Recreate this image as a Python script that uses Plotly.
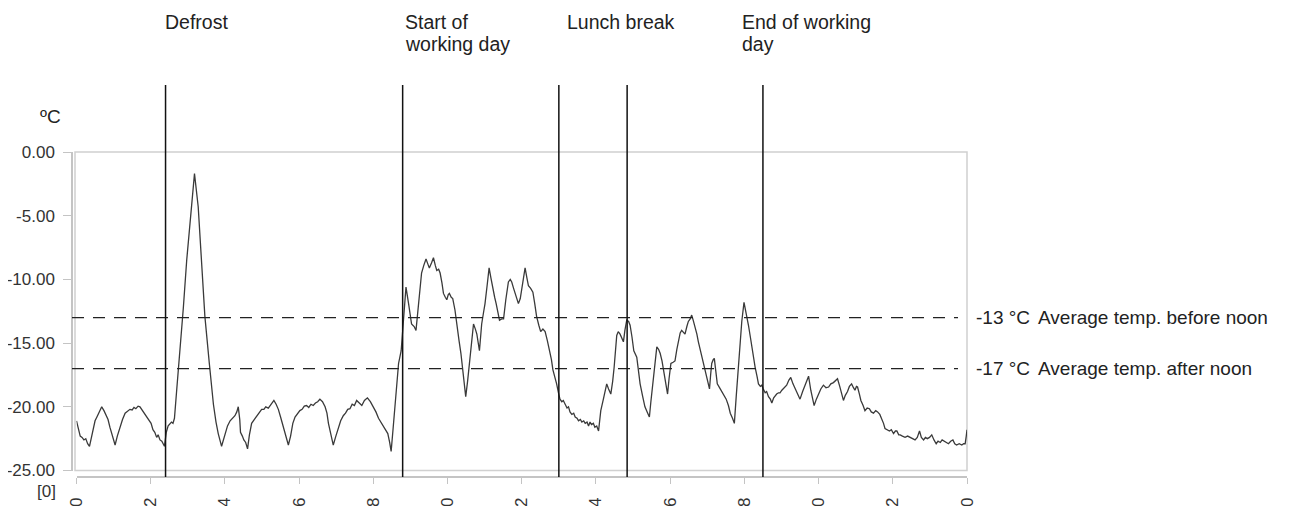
import plotly.graph_objects as go

# ---------------- data ----------------
# hours of the day and temperature in deg C, split by period
h_early = [0.00, 0.05, 0.10, 0.15, 0.20, 0.25, 0.30, 0.35, 0.40, 0.45,
           0.50, 0.55, 0.62, 0.68, 0.74, 0.80, 0.85, 0.90, 0.97, 1.04,
           1.10, 1.17, 1.24, 1.31, 1.38, 1.44, 1.50, 1.55, 1.60, 1.66,
           1.71, 1.76, 1.81, 1.86, 1.91, 1.96, 2.01, 2.06, 2.11, 2.16,
           2.20, 2.25, 2.30, 2.37]
t_early = [-21.1, -21.6, -22.3, -22.4, -22.6, -22.5, -22.9, -23.1, -22.5, -21.7,
           -21.1, -20.8, -20.4, -20.0, -20.3, -20.7, -21.0, -21.6, -22.3, -23.0,
           -22.3, -21.6, -21.0, -20.5, -20.3, -20.2, -20.25, -20.05, -20.15, -19.95,
           -20.0, -20.2, -20.4, -20.6, -20.9, -21.1, -21.3, -21.8, -22.0, -22.4,
           -22.2, -22.6, -22.7, -23.1]

h_defrost = [2.42, 2.47, 2.52, 2.56, 2.60, 2.64, 2.70, 2.79, 2.88, 2.97,
             3.08, 3.18, 3.28, 3.37, 3.46, 3.58, 3.69, 3.76, 3.82, 3.91]
t_defrost = [-22.0, -21.5, -21.3, -21.2, -21.3, -20.9, -18.7, -15.6, -12.2, -8.5,
             -4.6, -1.7, -4.3, -8.5, -12.9, -16.6, -19.8, -21.2, -22.1, -23.1]

h_night = [3.96, 4.00, 4.07, 4.14, 4.20, 4.27, 4.32, 4.36, 4.40, 4.42,
           4.47, 4.51, 4.56, 4.61, 4.66, 4.72, 4.79, 4.86, 4.92, 4.99,
           5.05, 5.10, 5.17, 5.24, 5.32, 5.38, 5.44, 5.50, 5.57, 5.64,
           5.71, 5.77, 5.83, 5.89, 5.95, 6.02, 6.08, 6.14, 6.20, 6.26,
           6.32, 6.38, 6.44, 6.50, 6.56, 6.63, 6.70, 6.75, 6.79, 6.85,
           6.92, 6.99, 7.06, 7.12, 7.19, 7.25, 7.31, 7.37, 7.43, 7.49,
           7.55, 7.62, 7.69, 7.76, 7.84, 7.92, 8.00, 8.07, 8.14, 8.20,
           8.27, 8.33, 8.39, 8.44, 8.48]
t_night = [-22.6, -22.1, -21.5, -21.1, -20.9, -20.7, -20.4, -20.0, -21.0, -22.0,
           -22.3, -22.6, -22.8, -23.3, -22.2, -21.3, -21.0, -20.7, -20.4, -20.2,
           -20.2, -20.0, -20.1, -19.8, -19.5, -19.8, -20.2, -20.8, -21.6, -22.3,
           -23.0, -22.3, -21.3, -20.8, -20.6, -20.3, -20.2, -19.95, -19.9, -20.05,
           -19.8, -19.9, -19.7, -19.6, -19.4, -19.6, -20.0, -20.5, -21.3, -22.0,
           -23.0, -22.3, -21.6, -21.1, -20.7, -20.5, -20.2, -20.15, -19.8, -19.9,
           -19.5, -19.7, -19.9, -19.5, -19.3, -19.6, -20.0, -20.4, -20.9, -21.2,
           -21.6, -21.9, -22.1, -22.8, -23.5]

h_morning = [8.53, 8.59, 8.68, 8.75, 8.81, 8.88, 8.95, 9.03, 9.10, 9.15,
             9.21, 9.30, 9.36, 9.42, 9.47, 9.51, 9.57, 9.62, 9.67, 9.71,
             9.76, 9.80, 9.85, 9.89, 9.94, 9.98, 10.02, 10.05, 10.10, 10.14,
             10.20, 10.25, 10.31, 10.36, 10.43, 10.49, 10.54, 10.58, 10.64, 10.70,
             10.75, 10.79, 10.86, 10.92, 10.97, 11.01, 11.07, 11.12, 11.17, 11.22,
             11.27, 11.31, 11.36, 11.40, 11.46, 11.51, 11.57, 11.64, 11.69, 11.73,
             11.78, 11.84, 11.91, 11.96, 12.00, 12.05, 12.09, 12.14, 12.18, 12.24,
             12.30, 12.35, 12.40, 12.46, 12.51, 12.57, 12.63, 12.69, 12.75, 12.80,
             12.84, 12.89, 12.94, 12.99]
t_morning = [-21.8, -19.8, -16.6, -15.6, -12.9, -10.6, -11.9, -13.5, -13.7, -14.0,
             -12.2, -9.5, -8.9, -8.4, -8.8, -9.1, -8.7, -8.3, -8.9, -9.3,
             -9.2, -9.5, -10.3, -11.1, -11.4, -11.6, -11.2, -11.1, -11.4, -11.5,
             -12.4, -13.7, -14.8, -15.8, -17.7, -19.2, -18.0, -16.9, -15.0, -13.5,
             -13.9, -14.3, -15.6, -13.5, -12.6, -11.9, -10.4, -9.1, -9.9, -10.8,
             -11.4, -11.9, -12.6, -13.2, -13.1, -13.1, -11.6, -10.2, -10.0, -10.2,
             -10.7, -11.3, -11.9, -11.5, -10.8, -10.0, -9.1, -9.9, -10.5, -10.7,
             -11.0, -11.9, -12.9, -13.6, -14.1, -13.9, -14.1, -14.8, -15.6, -16.3,
             -17.1, -17.6, -18.2, -18.9]

h_lunch = [13.03, 13.08, 13.12, 13.17, 13.22, 13.26, 13.30, 13.35, 13.40, 13.44,
           13.49, 13.53, 13.58, 13.62, 13.67, 13.71, 13.76, 13.80, 13.84, 13.88,
           13.93, 13.97, 14.02, 14.07, 14.10, 14.13, 14.20, 14.24, 14.29, 14.34,
           14.40]
t_lunch = [-19.4, -19.6, -19.5, -19.8, -20.1, -20.0, -20.4, -20.6, -20.5, -20.8,
           -20.9, -21.1, -21.0, -21.2, -21.1, -21.3, -21.2, -21.5, -21.2, -21.4,
           -21.3, -21.6, -21.5, -21.9, -21.0, -20.3, -19.4, -18.9, -18.2, -18.6,
           -19.0]

h_afternoon = [14.45, 14.49, 14.56, 14.60, 14.65, 14.70, 14.74, 14.78, 14.83, 14.88,
               14.92, 14.97, 15.02, 15.10, 15.15, 15.19, 15.26, 15.32, 15.38, 15.44,
               15.48, 15.53, 15.58, 15.64, 15.69, 15.73, 15.78, 15.82, 15.88, 15.93,
               15.97, 16.02, 16.08, 16.13, 16.18, 16.22, 16.27, 16.31, 16.36, 16.40,
               16.45, 16.49, 16.54, 16.58, 16.62, 16.67, 16.72, 16.76, 16.82, 16.88,
               16.94, 16.99, 17.06, 17.09, 17.12, 17.16, 17.19, 17.23, 17.27, 17.33,
               17.39, 17.45, 17.51, 17.57, 17.62, 17.68, 17.73]
t_afternoon = [-18.0, -16.9, -14.4, -14.1, -14.3, -14.6, -14.9, -14.0, -13.2, -13.3,
               -13.6, -14.5, -15.6, -16.1, -17.3, -18.2, -19.2, -20.0, -20.4, -20.8,
               -19.6, -18.2, -16.8, -15.3, -15.5, -15.8, -16.4, -17.1, -18.1, -19.0,
               -17.8, -16.6, -16.5, -16.4, -15.5, -14.8, -14.2, -14.0, -14.2, -14.3,
               -13.7, -13.3, -13.1, -12.8, -13.2, -13.7, -14.3, -14.9, -15.6, -16.4,
               -17.1, -17.7, -18.6, -17.5, -16.6, -16.3, -16.2, -17.2, -18.2, -18.5,
               -18.8, -19.0, -19.4, -19.9, -20.5, -20.9, -21.3]

h_evening = [17.78, 17.84, 17.89, 17.93, 17.99, 18.05, 18.11, 18.16, 18.20, 18.25,
             18.29, 18.34, 18.38, 18.43, 18.47, 18.51, 18.56, 18.60, 18.65, 18.70,
             18.74, 18.79, 18.83, 18.87, 18.92, 18.96, 19.01, 19.05, 19.10, 19.14,
             19.20, 19.25, 19.31, 19.37, 19.43, 19.50, 19.57, 19.64, 19.69, 19.73,
             19.79, 19.84, 19.88, 19.94, 20.00, 20.06, 20.13, 20.20, 20.27, 20.33,
             20.40, 20.46, 20.51, 20.57, 20.62, 20.67, 20.72, 20.78, 20.83, 20.89,
             20.94, 20.98, 21.02, 21.05, 21.10, 21.14, 21.20, 21.25, 21.31, 21.37,
             21.42, 21.48, 21.54, 21.59, 21.65, 21.70, 21.75, 21.79, 21.85, 21.91,
             21.96, 22.02, 22.07, 22.11, 22.16, 22.20, 22.26, 22.33, 22.40, 22.47,
             22.53, 22.60, 22.66, 22.72, 22.77, 22.83, 22.88, 22.93, 22.99, 23.05,
             23.11, 23.17, 23.22, 23.28, 23.33, 23.38, 23.44, 23.50, 23.56, 23.62,
             23.67, 23.72, 23.79, 23.86, 23.91, 23.95, 23.98, 24.00]
t_evening = [-19.2, -16.9, -14.8, -13.3, -11.8, -12.6, -13.6, -14.5, -15.3, -16.1,
             -16.9, -17.6, -18.2, -18.4, -18.3, -18.6, -18.9, -18.8, -19.2, -19.4,
             -19.7, -19.3, -19.1, -19.0, -18.9, -18.9, -18.7, -18.6, -18.4, -18.3,
             -17.9, -17.7, -18.2, -18.6, -19.0, -19.4, -18.8, -18.2, -17.9, -17.6,
             -18.7, -19.4, -19.9, -19.4, -19.0, -18.6, -18.3, -18.5, -18.45, -18.2,
             -18.1, -17.9, -17.8, -18.4, -19.0, -19.5, -19.1, -18.8, -18.4, -18.2,
             -18.5, -18.7, -18.4, -18.45, -19.0, -19.5, -19.9, -20.3, -20.1, -20.15,
             -20.4, -20.5, -20.3, -20.4, -20.6, -20.9, -21.3, -21.7, -21.8, -21.9,
             -21.8, -22.1, -21.9, -21.9, -22.2, -22.2, -22.3, -22.4, -22.3, -22.4,
             -22.5, -22.6, -22.4, -21.9, -22.4, -22.6, -22.4, -22.5, -22.4, -22.2,
             -22.6, -22.9, -22.7, -22.8, -22.6, -22.7, -22.8, -22.9, -22.7, -22.6,
             -22.9, -23.0, -22.9, -23.0, -22.9, -22.9, -22.3, -21.8]

# event markers (hours) and their labels (one entry per text line)
event_hours = [2.40, 8.79, 13.0, 14.84, 18.5]
label_lines = ["Defrost", "Start of", "working day", "Lunch break", "End of working", "day"]
label_left_px = [164, 404, 404, 566, 741, 741]
label_mid_py = [22, 22, 44, 22, 22, 44]

# average temperature reference lines
avg_values = [-13, -17]
avg_value_text = ["-13 °C", "-17 °C"]
avg_desc_text = ["Average temp. before noon", "Average temp. after noon"]

# axis ticks
y_tick_vals = [0, -5, -10, -15, -20, -25]
y_tick_text = ["0.00", "-5.00", "-10.00", "-15.00", "-20.00", "-25.00"]
x_tick_vals = [0, 2, 4, 6, 8, 10, 12, 14, 16, 18, 20, 22, 24]
x_tick_text = ["0", "2", "4", "6", "8", "10", "12", "14", "16", "18", "20", "22", "0"]

# ---------------- assemble ----------------
hours = h_early + h_defrost + h_night + h_morning + h_lunch + h_afternoon + h_evening
temps = t_early + t_defrost + t_night + t_morning + t_lunch + t_afternoon + t_evening
assert len(hours) == len(temps)

W, H = 1292, 506
OFF = 8                                   # page body margin of the html page
# paper area (screen pixels): y axis line at x=72, x axis line at y=477
SL, SR, ST, SB = 72, 967, 152, 477
L, R, T, B = SL - OFF, SR - OFF, ST - OFF, SB - OFF
PW, PH = R - L, B - T


def px_x(px):
    """screen x pixel -> paper coordinate"""
    return (px - OFF - L) / PW


def px_y(py):
    """screen y pixel -> paper coordinate"""
    return (B - (py - OFF)) / PH


FONT = "Liberation Sans, Arial, Helvetica, sans-serif"
TXT = "#222222"

fig = go.Figure()
fig.add_trace(go.Scatter(x=hours, y=temps, mode="lines",
                         line=dict(color="#3a3a3a", width=1.3),
                         hoverinfo="skip", showlegend=False))

shapes = []
# light grey frame of the plot area
shapes.append(dict(type="rect", xref="paper", yref="paper",
                   x0=px_x(75), x1=1.0, y0=px_y(470.5), y1=1.0,
                   line=dict(color="#d0d0d0", width=1.5), layer="below"))
# average dashed lines
for v in avg_values:
    shapes.append(dict(type="line", xref="paper", yref="y",
                       x0=0.0, x1=px_x(958), y0=v, y1=v,
                       line=dict(color="#222222", width=1.3, dash="12px,9px")))
# event lines
for hx in event_hours:
    shapes.append(dict(type="line", xref="x", yref="paper",
                       x0=hx, x1=hx, y0=0.0, y1=px_y(85),
                       line=dict(color="#111111", width=1.5)))

annotations = []
for txt, px, py in zip(label_lines, label_left_px, label_mid_py):
    annotations.append(dict(text=txt, xref="paper", yref="paper",
                            x=px_x(px), y=px_y(py), xanchor="left", yanchor="middle",
                            showarrow=False, align="left", borderpad=0,
                            font=dict(family=FONT, size=19.5, color=TXT)))
for v, vt, dt in zip(avg_values, avg_value_text, avg_desc_text):
    annotations.append(dict(text=vt, xref="paper", yref="y", x=px_x(975), y=v,
                            xanchor="left", yanchor="middle", showarrow=False, borderpad=0,
                            font=dict(family=FONT, size=19, color=TXT)))
    annotations.append(dict(text=dt, xref="paper", yref="y", x=px_x(1037), y=v,
                            xanchor="left", yanchor="middle", showarrow=False, borderpad=0,
                            font=dict(family=FONT, size=19, color=TXT)))
annotations.append(dict(text="ºC", xref="paper", yref="paper", x=px_x(50), y=px_y(117),
                        xanchor="center", yanchor="middle", showarrow=False,
                        font=dict(family=FONT, size=19, color=TXT)))
annotations.append(dict(text="[0]", xref="paper", yref="paper", x=px_x(57), y=px_y(491),
                        xanchor="right", yanchor="middle", showarrow=False, borderpad=0,
                        font=dict(family=FONT, size=17, color="#333333")))

fig.update_layout(
    width=W, height=H,
    margin=dict(l=L, r=W - R, t=T, b=H - B, pad=0, autoexpand=False),
    paper_bgcolor="white", plot_bgcolor="white",
    showlegend=False,
    font=dict(family=FONT, color="#333333"),
    shapes=shapes, annotations=annotations,
    xaxis=dict(domain=[px_x(76.5), 1.0], range=[0, 24], anchor="free", position=0,
               automargin=False,
               showline=True, linecolor="#c4c4c4", linewidth=1.5,
               ticks="outside", ticklen=6, tickwidth=1, tickcolor="#c4c4c4",
               ticklabelstandoff=7,
               tickvals=x_tick_vals, ticktext=x_tick_text, tickangle=-90,
               tickfont=dict(family=FONT, size=17, color="#333333"),
               showgrid=False, zeroline=False, fixedrange=True),
    yaxis=dict(domain=[px_y(470.5), 1.0], range=[-25, 0], anchor="free", position=0,
               automargin=False,
               showline=True, linecolor="#c4c4c4", linewidth=1.5,
               ticks="outside", ticklen=8, tickwidth=1, tickcolor="#c4c4c4",
               ticklabelstandoff=5,
               tickvals=y_tick_vals, ticktext=y_tick_text,
               tickfont=dict(family=FONT, size=17, color="#333333"),
               showgrid=False, zeroline=False, fixedrange=True),
)

fig.write_html("out.html")
